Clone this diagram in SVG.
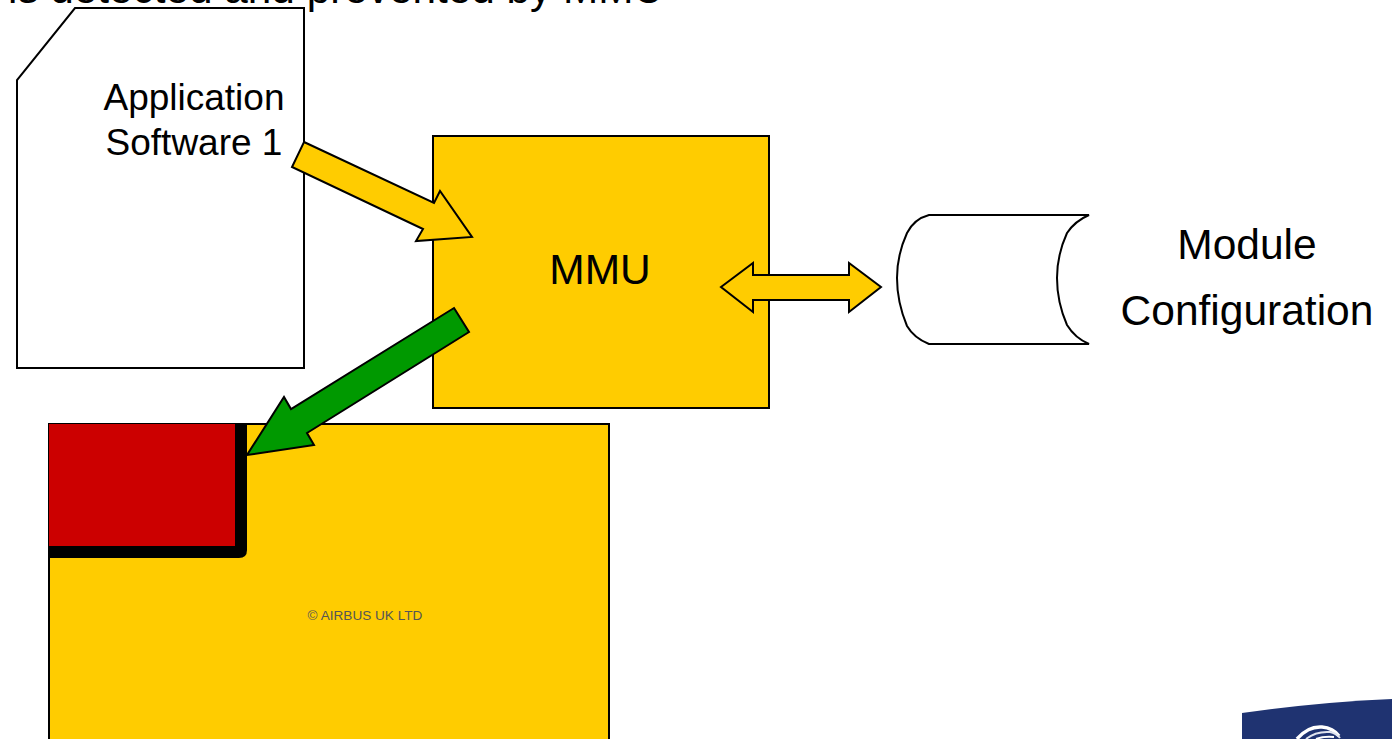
<svg xmlns="http://www.w3.org/2000/svg" width="1392" height="739" viewBox="0 0 1392 739">
<style>
text{font-family:"Liberation Sans",Arial,sans-serif;fill:#000}
.o{stroke:#000;stroke-width:2;stroke-linejoin:miter}
.y{fill:#fc0}
.w{fill:#fff}
.l{font-size:37px;text-anchor:middle}
</style>
<rect width="1392" height="739" fill="#fff"/>
<text x="8" y="3" font-size="42.3">is detected and prevented by MMU</text>
<g id="app-software">
<path class="o w" d="M75 8H304V368H17V80Z"/>
<text class="l" x="194" y="110">Application</text>
<text class="l" x="194" y="155">Software 1</text>
</g>
<g id="mmu">
<rect class="o y" x="433" y="136" width="336" height="272"/>
<text x="600" y="284" text-anchor="middle" font-size="42.5">MMU</text>
</g>
<g id="module-configuration">
<path class="o w" d="M1089 215H929Q914 219 907 233Q897 255 897 278Q897 302 907 326Q914 338 929 344H1089Q1075 338 1067 325Q1057 302 1057 278Q1057 255 1067 233Q1075 221 1089 215Z"/>
<text x="1247" y="259" text-anchor="middle" font-size="42.5">Module</text>
<text x="1247" y="325" text-anchor="middle" font-size="42.5">Configuration</text>
</g>
<g id="memory">
<rect class="o y" x="49" y="424" width="560" height="330"/>
<path d="M49 424H247V550Q247 558 239 558H49Z" fill="#000"/>
<rect x="49" y="424" width="186" height="122" fill="#c00"/>
<text x="365" y="620" text-anchor="middle" font-size="13.6" style="fill:#555">© AIRBUS UK LTD</text>
</g>
<g id="logo">
<path d="M1242 713Q1320 702 1392 699V739H1242Z" fill="#1f3371"/>
<path d="M1297 739Q1308 726 1322 727Q1333 728 1339 736" fill="none" stroke="#fff" stroke-width="3.5"/>
<path d="M1306 739Q1316 731 1330 732Q1336 733 1340 738" fill="none" stroke="#dfe3ee" stroke-width="2"/>
<path d="M1316 739Q1324 736 1334 737" fill="none" stroke="#fff" stroke-width="2"/>
</g>
<g id="connectors">
<path class="o y" d="M304 142L434 203L440 191L472 237L416 241L423 229L292 167Z"/>
<path class="o y" d="M721 287L753 263V275H849V263L881 287L849 312V300H753V312Z"/>
<path class="o" fill="#090" d="M454 308L469 332L307 433L314 445L247 455L284 397L291 409Z"/>
</g>
</svg>
